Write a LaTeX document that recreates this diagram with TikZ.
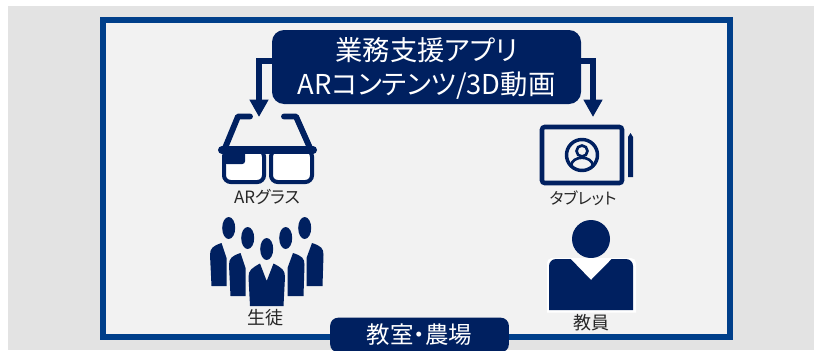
\documentclass[tikz,border=0pt]{standalone}
\usepackage{fontspec}
\setmainfont[RawFeature=+palt]{Noto Sans CJK JP}
\usetikzlibrary{arrows.meta}
\definecolor{navy}{HTML}{002060}
\definecolor{framecol}{HTML}{003F8A}
\definecolor{outergray}{HTML}{E3E3E3}
\definecolor{innergray}{HTML}{F2F2F2}
\tikzset{
  titlebox/.style={fill=navy,rounded corners=9pt,text=white,inner sep=0pt},
  iconlabel/.style={text=black!85,font=\fontsize{12pt}{13pt}\selectfont,inner sep=0pt},
  kanjilabel/.style={iconlabel,font=\fontsize{13.5pt}{14pt}\selectfont},
  feedarrow/.style={draw=navy,line width=4.5pt,-{Triangle[length=13pt,width=13.5pt]}},
  templeline/.style={navy,line width=4.4pt,line cap=round,line join=round},
  lensbox/.style={navy,line width=3pt,fill=white,rounded corners=5pt},
  bodyfill/.style={fill=navy,draw=none},
}
\begin{document}
\begin{tikzpicture}[x=0.75pt,y=0.75pt,yscale=-1,xscale=1]
  \useasboundingbox (0,0) rectangle (814,350);

  % background and frame
  \fill[outergray] (8,6) rectangle (814,350);
  \draw[framecol,line width=4.5pt,fill=innergray] (102.5,20) rectangle (730,337);

  % title and place
  \node[titlebox,minimum width=231.75pt,minimum height=55.5pt] (app) at (426.5,67) {};
  \node[text=white,inner sep=0pt,align=center,font=\fontsize{20.5pt}{25.5pt}\selectfont] (apptext) at (426.5,68.5)
    {業務支援アプリ\\ARコンテンツ/3D動画};
  \node[titlebox,rounded corners=6pt,minimum width=134pt,minimum height=26pt,
    font=\fontsize{17.6pt}{18pt}\selectfont] (place) at (419.5,335) {教室・農場};

  % glasses
  \coordinate (glassesTip) at (259,117);
  \draw[templeline] (250,116.5) -- (238,116.5) -- (225,148);
  \draw[templeline] (284,116.5) -- (296,116.5) -- (310,148);
  \draw[lensbox] (224,150) -- (224,182) -- (264,182) -- (264,150) -- cycle;
  \draw[lensbox] (271,150) -- (271,182) -- (312,182) -- (312,150) -- cycle;
  \fill[navy,rounded corners=2pt] (224,150) -- (224,164) -- (245,164) -- (245,150) -- cycle;
  \draw[navy,line width=6pt,line cap=round] (222,150) -- (313,150);
  \node[iconlabel,font=\fontsize{12.7pt}{13pt}\selectfont] (glasses) at (267,197) {ARグラス};

  % tablet
  \coordinate (tabletTip) at (593,117);
  \draw[navy,line width=3.4pt,rounded corners=2pt] (542,127) rectangle (622,183);
  \draw[navy,line width=2.6pt] (582,155) circle (15.5);
  \draw[navy,line width=2pt] (582,151) circle (5.5);
  \draw[navy,line width=2pt] (571,166) .. controls (572,155) and (592,155) .. (593,166);
  \fill[navy] (628,177) -- (628,137) -- (630.5,133) -- (633,137) -- (633,177) -- cycle;
  \node[iconlabel] (tablet) at (583,198) {タブレット};

  % arrows
  \draw[feedarrow] (app.west |- 0,61) -| (glassesTip);
  \draw[feedarrow] (app.east |- 0,61) -| (tabletTip);

  % students
  \foreach \hx/\hy in {228.7/228,247.7/238,266.7/249,285.7/238,304.7/228}
    \fill[navy] (\hx,\hy) ellipse (6.5 and 11);
  \foreach \sx/\sy in {0/0,19/10}{
    \fill[bodyfill,shift={(\sx,\sy)}] (211.5,286) -- (210,255) .. controls (210,248) and (213,246) .. (221.5,243) -- (226.5,258) -- (226.5,286) -- cycle;
    \fill[bodyfill,shift={(-\sx,\sy)}] (322.5,286) -- (323.5,255) .. controls (323.5,248) and (321,246) .. (312,243) -- (306.5,258) -- (306.5,286) -- cycle;
  }
  \fill[bodyfill] (250,306) -- (248.5,277) .. controls (248.5,270) and (252,268) .. (260,263.5) -- (266.7,281) -- (273.5,263.5) .. controls (282,268) and (285,270) .. (285,277) -- (283.5,306) -- cycle;
  \node[kanjilabel] (students) at (265,318) {生徒};

  % teacher
  \fill[navy] (591,239) circle (19);
  \fill[white] (547,312.7) -- (547,263) arc (180:270:5) -- (631,258) arc (-90:0:5) -- (636,312.7) -- cycle;
  \fill[navy] (549,310) -- (549,266) arc (180:270:7) -- (570.7,259) -- (591,280) -- (611.7,259) -- (626,259) arc (-90:0:7) -- (633,310) -- cycle;
  \node[kanjilabel] (teacher) at (591,323) {教員};
\end{tikzpicture}
\end{document}
